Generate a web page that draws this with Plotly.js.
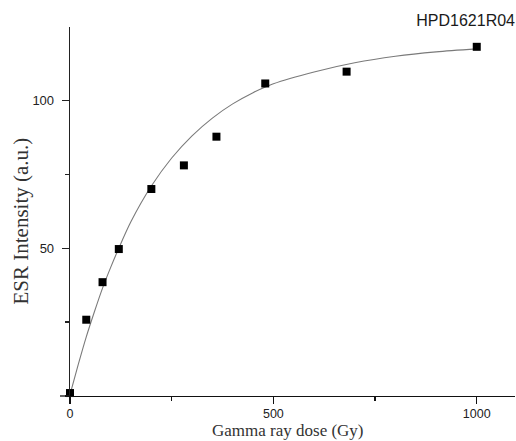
<!DOCTYPE html>
<html>
<head>
<meta charset="utf-8">
<script src="https://cdn.plot.ly/plotly-3.0.1.min.js"></script>
<style>html,body{margin:0;padding:0;background:#fff;}#chart{width:516px;height:441px;}</style>
</head>
<body>
<div id="chart"></div>
<script>
// Measured data points (dose in Gy, ESR intensity in a.u.)
var doseGy = [0, 40, 80, 120, 200, 280, 360, 480, 680, 1000];
var esrIntensity = [1, 25.8, 38.5, 49.7, 70, 78, 87.7, 105.7, 109.7, 118.1];

// Fitted curve
var fitDose = [0, 20, 40, 60, 80, 100, 120, 150, 200, 250, 300, 350, 400, 450, 500, 600, 700, 800, 900, 1000];
var fitIntensity = [0.5, 10.5, 20, 28.5, 36.5, 43.5, 50, 59, 71, 80.5, 88, 94, 98.8, 102.6, 105.6, 109.6, 112.7, 114.9, 116.4, 117.4];

var xTickVals = [0, 500, 1000];
var yTickVals = [50, 100];

var traces = [
  {
    x: fitDose, y: fitIntensity, type: 'scatter', mode: 'lines',
    line: {color: '#7a7a7a', width: 1.1, shape: 'spline', smoothing: 0.8},
    hoverinfo: 'skip', showlegend: false
  },
  {
    x: doseGy, y: esrIntensity, type: 'scatter', mode: 'markers',
    marker: {symbol: 'square', size: 8, color: '#000'},
    cliponaxis: false, showlegend: false
  }
];

var layout = {
  width: 516, height: 441,
  margin: {l: 70, r: 1, t: 27, b: 45},
  paper_bgcolor: '#fff', plot_bgcolor: '#fff',
  showlegend: false,
  title: {
    text: 'HPD1621R04',
    font: {family: 'Liberation Sans, Arial, sans-serif', size: 16, color: '#1a1a1a'},
    x: 1, xref: 'paper', xanchor: 'right',
    y: 1 - 20/441, yref: 'container', yanchor: 'middle'
  },
  xaxis: {
    range: [0, 1094],
    showgrid: false, zeroline: false,
    showline: true, linecolor: '#111', linewidth: 1.3,
    ticks: 'outside', ticklen: 7, tickwidth: 1.2, tickcolor: '#111',
    tickvals: xTickVals, ticktext: xTickVals.map(String),
    ticklabelstandoff: -1,
    minor: {dtick: 250, tick0: 0, ticks: 'outside', ticklen: 4, tickwidth: 1.2, tickcolor: '#111', showgrid: false},
    tickfont: {family: 'Liberation Sans, Arial, sans-serif', size: 12.5, color: '#222'}
  },
  yaxis: {
    range: [0, 124.8],
    showgrid: false, zeroline: false,
    showline: true, linecolor: '#222', linewidth: 1.3,
    ticks: 'outside', ticklen: 7, tickwidth: 1.2, tickcolor: '#222',
    tickvals: yTickVals, ticktext: yTickVals.map(String),
    ticklabelstandoff: 5,
    minor: {dtick: 25, tick0: 0, ticks: 'outside', ticklen: 4, tickwidth: 1.2, tickcolor: '#222', showgrid: false},
    tickfont: {family: 'Liberation Sans, Arial, sans-serif', size: 13, color: '#222'}
  },
  annotations: [
    {
      text: 'ESR Intensity (a.u.)', textangle: -90, showarrow: false,
      xref: 'paper', yref: 'paper',
      x: (20.5 - 70) / 445, y: (441 - 221 - 45) / 369,
      xanchor: 'center', yanchor: 'middle',
      font: {family: 'Liberation Serif, Times New Roman, serif', size: 21, color: '#333'}
    },
    {
      text: 'Gamma ray dose (Gy)', showarrow: false,
      xref: 'paper', yref: 'paper',
      x: (288 - 70) / 445, y: -(430 - 396) / 369,
      xanchor: 'center', yanchor: 'middle', borderpad: 0,
      font: {family: 'Liberation Serif, Times New Roman, serif', size: 17, color: '#333'}
    }
  ],
  shapes: [
    {type: 'line', xref: 'paper', yref: 'paper', x0: -10/445, x1: 0, y0: 0, y1: 0,
     line: {color: '#111', width: 1.3}, layer: 'above'}
  ]
};

Plotly.newPlot('chart', traces, layout, {displayModeBar: false, staticPlot: true});
</script>
</body>
</html>
